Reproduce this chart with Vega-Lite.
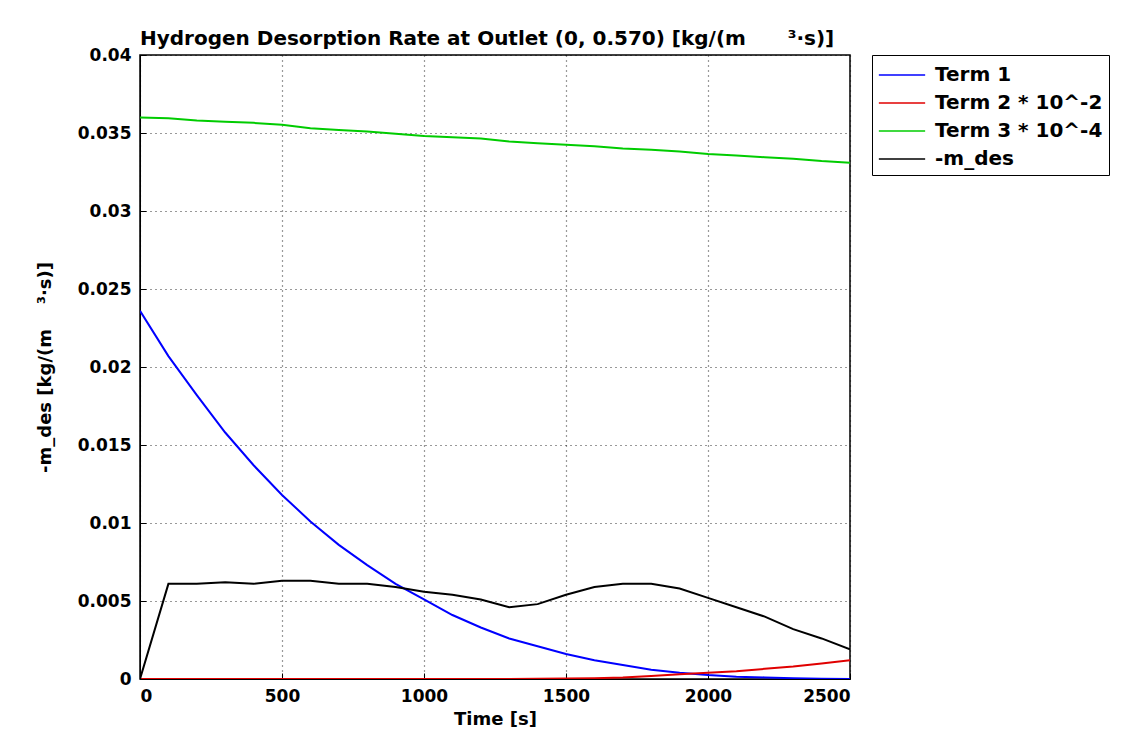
{
  "$schema": "https://vega.github.io/schema/vega-lite/v6.json",
  "autosize": {"type": "none"},
  "padding": {"left": 140, "top": 55, "right": 291, "bottom": 63},
  "width": 710,
  "height": 624,
  "background": "white",
  "title": {
    "text": "Hydrogen Desorption Rate at Outlet (0, 0.570) [kg/(m\u00a0\u00a0\u00a0\u00a0\u00a0\u00a0³·s)]",
    "anchor": "start",
    "frame": "group",
    "font": "DejaVu Sans",
    "fontSize": 20,
    "fontWeight": "bold",
    "color": "black",
    "offset": -3
  },
  "data": {"values": [
    {"t":0,"s":"Term 1","v":0.0236},{"t":100,"s":"Term 1","v":0.0207},{"t":200,"s":"Term 1","v":0.0182},{"t":300,"s":"Term 1","v":0.0158},{"t":400,"s":"Term 1","v":0.0137},{"t":500,"s":"Term 1","v":0.0118},{"t":600,"s":"Term 1","v":0.0101},{"t":700,"s":"Term 1","v":0.0086},{"t":800,"s":"Term 1","v":0.0073},{"t":900,"s":"Term 1","v":0.0061},{"t":1000,"s":"Term 1","v":0.0051},{"t":1100,"s":"Term 1","v":0.0041},{"t":1200,"s":"Term 1","v":0.0033},{"t":1300,"s":"Term 1","v":0.0026},{"t":1400,"s":"Term 1","v":0.0021},{"t":1500,"s":"Term 1","v":0.0016},{"t":1600,"s":"Term 1","v":0.0012},{"t":1700,"s":"Term 1","v":0.0009},{"t":1800,"s":"Term 1","v":0.0006},{"t":1900,"s":"Term 1","v":0.0004},{"t":2000,"s":"Term 1","v":0.00025},{"t":2100,"s":"Term 1","v":0.00015},{"t":2200,"s":"Term 1","v":0.0001},{"t":2300,"s":"Term 1","v":0.00005},{"t":2400,"s":"Term 1","v":0.00002},{"t":2500,"s":"Term 1","v":0.0},
    {"t":0,"s":"Term 2 * 10^-2","v":0.0},{"t":100,"s":"Term 2 * 10^-2","v":0.0},{"t":200,"s":"Term 2 * 10^-2","v":0.0},{"t":300,"s":"Term 2 * 10^-2","v":0.0},{"t":400,"s":"Term 2 * 10^-2","v":0.0},{"t":500,"s":"Term 2 * 10^-2","v":0.0},{"t":600,"s":"Term 2 * 10^-2","v":0.0},{"t":700,"s":"Term 2 * 10^-2","v":0.0},{"t":800,"s":"Term 2 * 10^-2","v":0.0},{"t":900,"s":"Term 2 * 10^-2","v":0.0},{"t":1000,"s":"Term 2 * 10^-2","v":0.0},{"t":1100,"s":"Term 2 * 10^-2","v":0.0},{"t":1200,"s":"Term 2 * 10^-2","v":0.0},{"t":1300,"s":"Term 2 * 10^-2","v":0.0},{"t":1400,"s":"Term 2 * 10^-2","v":0.00001},{"t":1500,"s":"Term 2 * 10^-2","v":0.00003},{"t":1600,"s":"Term 2 * 10^-2","v":0.00005},{"t":1700,"s":"Term 2 * 10^-2","v":0.0001},{"t":1800,"s":"Term 2 * 10^-2","v":0.0002},{"t":1900,"s":"Term 2 * 10^-2","v":0.0003},{"t":2000,"s":"Term 2 * 10^-2","v":0.0004},{"t":2100,"s":"Term 2 * 10^-2","v":0.0005},{"t":2200,"s":"Term 2 * 10^-2","v":0.00065},{"t":2300,"s":"Term 2 * 10^-2","v":0.0008},{"t":2400,"s":"Term 2 * 10^-2","v":0.001},{"t":2500,"s":"Term 2 * 10^-2","v":0.0012},
    {"t":0,"s":"Term 3 * 10^-4","v":0.036},{"t":100,"s":"Term 3 * 10^-4","v":0.03595},{"t":200,"s":"Term 3 * 10^-4","v":0.0358},{"t":300,"s":"Term 3 * 10^-4","v":0.03572},{"t":400,"s":"Term 3 * 10^-4","v":0.03565},{"t":500,"s":"Term 3 * 10^-4","v":0.03553},{"t":600,"s":"Term 3 * 10^-4","v":0.0353},{"t":700,"s":"Term 3 * 10^-4","v":0.0352},{"t":800,"s":"Term 3 * 10^-4","v":0.0351},{"t":900,"s":"Term 3 * 10^-4","v":0.03495},{"t":1000,"s":"Term 3 * 10^-4","v":0.0348},{"t":1100,"s":"Term 3 * 10^-4","v":0.03473},{"t":1200,"s":"Term 3 * 10^-4","v":0.03465},{"t":1300,"s":"Term 3 * 10^-4","v":0.03445},{"t":1400,"s":"Term 3 * 10^-4","v":0.03435},{"t":1500,"s":"Term 3 * 10^-4","v":0.03425},{"t":1600,"s":"Term 3 * 10^-4","v":0.03415},{"t":1700,"s":"Term 3 * 10^-4","v":0.034},{"t":1800,"s":"Term 3 * 10^-4","v":0.03392},{"t":1900,"s":"Term 3 * 10^-4","v":0.03382},{"t":2000,"s":"Term 3 * 10^-4","v":0.03365},{"t":2100,"s":"Term 3 * 10^-4","v":0.03355},{"t":2200,"s":"Term 3 * 10^-4","v":0.03345},{"t":2300,"s":"Term 3 * 10^-4","v":0.03335},{"t":2400,"s":"Term 3 * 10^-4","v":0.0332},{"t":2500,"s":"Term 3 * 10^-4","v":0.0331},
    {"t":0,"s":"-m_des","v":0.0},{"t":100,"s":"-m_des","v":0.0061},{"t":200,"s":"-m_des","v":0.0061},{"t":300,"s":"-m_des","v":0.0062},{"t":400,"s":"-m_des","v":0.0061},{"t":500,"s":"-m_des","v":0.0063},{"t":600,"s":"-m_des","v":0.0063},{"t":700,"s":"-m_des","v":0.0061},{"t":800,"s":"-m_des","v":0.0061},{"t":900,"s":"-m_des","v":0.0059},{"t":1000,"s":"-m_des","v":0.0056},{"t":1100,"s":"-m_des","v":0.0054},{"t":1200,"s":"-m_des","v":0.0051},{"t":1300,"s":"-m_des","v":0.0046},{"t":1400,"s":"-m_des","v":0.0048},{"t":1500,"s":"-m_des","v":0.0054},{"t":1600,"s":"-m_des","v":0.0059},{"t":1700,"s":"-m_des","v":0.0061},{"t":1800,"s":"-m_des","v":0.0061},{"t":1900,"s":"-m_des","v":0.0058},{"t":2000,"s":"-m_des","v":0.0052},{"t":2100,"s":"-m_des","v":0.0046},{"t":2200,"s":"-m_des","v":0.004},{"t":2300,"s":"-m_des","v":0.0032},{"t":2400,"s":"-m_des","v":0.0026},{"t":2500,"s":"-m_des","v":0.0019}
  ]},
  "mark": {"type": "line", "strokeWidth": 2, "clip": true},
  "encoding": {
    "x": {
      "field": "t", "type": "quantitative",
      "scale": {"domain": [0, 2500], "nice": false},
      "axis": {"values": [0, 500, 1000, 1500, 2000, 2500], "format": "d", "title": "Time [s]", "titlePadding": 6, "labelPadding": 15}
    },
    "y": {
      "field": "v", "type": "quantitative",
      "scale": {"domain": [0, 0.04], "nice": false},
      "axis": {"values": [0, 0.005, 0.01, 0.015, 0.02, 0.025, 0.03, 0.035, 0.04], "format": "~g", "title": "-m_des [kg/(m\u00a0\u00a0\u00a0\u00a0³·s)]", "titlePadding": 23, "labelPadding": 15, "titleFontSize": 18}
    },
    "color": {
      "field": "s", "type": "nominal",
      "scale": {
        "domain": ["Term 1", "Term 2 * 10^-2", "Term 3 * 10^-4", "-m_des"],
        "range": ["#0000ff", "#e00000", "#00cc00", "#000000"]
      },
      "legend": {
        "title": null,
        "orient": "none",
        "legendX": 732,
        "legendY": 0,
        "symbolType": "M-1.75,0H1.75",
        "symbolSize": 700,
        "symbolStrokeWidth": 1.5,
        "symbolOffset": 10,
        "strokeColor": "black",
        "fillColor": "white",
        "padding": 6,
        "labelFont": "DejaVu Sans",
        "labelFontSize": 20,
        "labelFontWeight": "bold",
        "labelColor": "black",
        "labelLimit": 400,
        "rowPadding": 4,
        "labelOffset": 19
      }
    }
  },
  "config": {
    "view": {"stroke": "black", "strokeWidth": 1.5},
    "axis": {
      "domainColor": "black",
      "tickColor": "black",
      "tickSize": -6,
      "labelFont": "DejaVu Sans",
      "labelFontSize": 17,
      "labelFontWeight": "bold",
      "labelColor": "black",
      "titleFont": "DejaVu Sans",
      "titleFontSize": 18,
      "titleFontWeight": "bold",
      "titleColor": "black",
      "grid": true,
      "gridColor": "black",
      "gridDash": [1, 4],
      "gridWidth": 1.2,
      "gridOpacity": 0.8
    }
  }
}
